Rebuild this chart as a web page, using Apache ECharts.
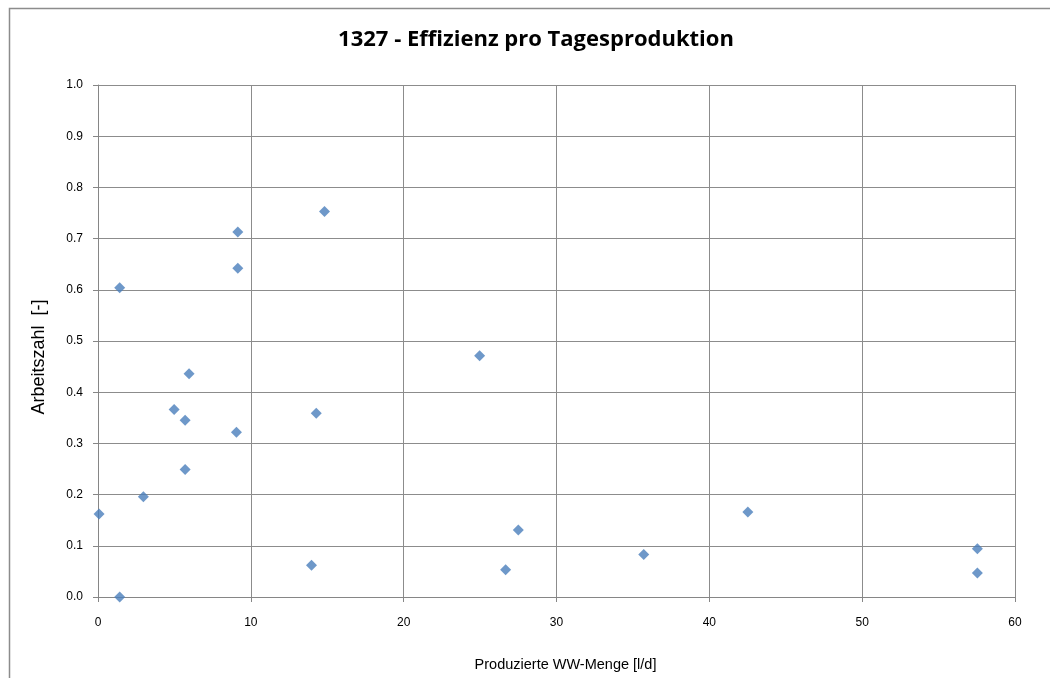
<!DOCTYPE html>
<html>
<head>
<meta charset="utf-8">
<script src="https://cdn.jsdelivr.net/npm/echarts@6/dist/echarts.min.js"></script>
<style>
  html, body { margin: 0; padding: 0; background: #fff; }
  #chart { width: 1050px; height: 678px; }
</style>
</head>
<body>
<div id="chart"></div>
<script>
// Messwerte: Produzierte WW-Menge [l/d] und Arbeitszahl [-]
const menge = [0.07, 1.42, 1.42, 2.97, 4.98, 5.70, 5.70, 5.96, 9.06, 9.15, 9.15,
  13.97, 14.28, 14.82, 24.97, 26.67, 27.50, 35.71, 42.52, 57.54, 57.54];
const arbeitszahl = [0.162, 0.000, 0.604, 0.196, 0.366, 0.345, 0.249, 0.436, 0.322, 0.713, 0.642,
  0.062, 0.359, 0.753, 0.471, 0.053, 0.131, 0.083, 0.166, 0.094, 0.047];

const xTicks = [0, 10, 20, 30, 40, 50, 60];
const yTicks = [0.0, 0.1, 0.2, 0.3, 0.4, 0.5, 0.6, 0.7, 0.8, 0.9, 1.0];

const punkte = menge.map((x, i) => [x, arbeitszahl[i]]);

const chart = echarts.init(document.getElementById('chart'));
const option = {
  backgroundColor: '#fff',
  animation: false,
  title: {
    text: '1327 - Effizienz pro Tagesproduktion',
    left: 531,
    top: 24,
    textAlign: 'center',
    textStyle: {
      fontFamily: 'Open Sans, sans-serif',
      fontWeight: 'bold',
      fontSize: 22,
      color: '#000'
    }
  },
  graphic: [{
    type: 'rect',
    shape: { x: 9.5, y: 8.5, width: 1100, height: 800 },
    style: { fill: 'none', stroke: '#8c8c8c', lineWidth: 1.5 },
    silent: true
  }],
  grid: { left: 98, right: 35, top: 85, bottom: 81 },
  xAxis: {
    type: 'value',
    min: xTicks[0],
    max: xTicks[xTicks.length - 1],
    interval: 10,
    name: 'Produzierte WW-Menge [l/d]',
    nameLocation: 'middle',
    nameGap: 60,
    nameTextStyle: { fontFamily: 'Liberation Sans', fontSize: 14.5, color: '#000', padding: [0, 0, 0, 18] },
    axisLine: { lineStyle: { color: '#868686', width: 1 } },
    axisTick: { show: true, length: 5, lineStyle: { color: '#868686' } },
    axisLabel: { fontFamily: 'Liberation Sans', fontSize: 12, color: '#000', margin: 20 },
    splitLine: { show: true, lineStyle: { color: '#8c8c8c', width: 1 } }
  },
  yAxis: {
    type: 'value',
    min: yTicks[0],
    max: yTicks[yTicks.length - 1],
    interval: 0.1,
    name: 'Arbeitszahl  [-]',
    nameLocation: 'middle',
    nameRotate: 90,
    nameGap: 50,
    nameTextStyle: { fontFamily: 'Liberation Sans', fontSize: 18, color: '#000', padding: [0, 32, 0, 0] },
    axisLine: { show: true, lineStyle: { color: '#868686', width: 1 } },
    axisTick: { show: true, length: 5, lineStyle: { color: '#868686' } },
    axisLabel: {
      fontFamily: 'Liberation Sans', fontSize: 12, color: '#000', margin: 15,
      formatter: v => v.toFixed(1)
    },
    splitLine: { show: true, lineStyle: { color: '#8c8c8c', width: 1 } }
  },
  series: [{
    name: 'Arbeitszahl',
    type: 'scatter',
    symbol: 'diamond',
    symbolSize: 11,
    data: punkte,
    itemStyle: { color: '#4a7ebb' }
  }]
};
chart.setOption(option);
</script>
</body>
</html>
